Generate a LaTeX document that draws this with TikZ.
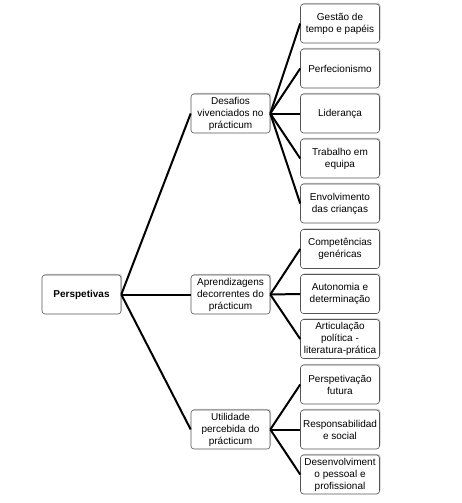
\documentclass[tikz,border=0pt]{standalone}
\usepackage{fontspec}
\setmainfont{Liberation Sans}
\usepackage{tikz}
\usetikzlibrary{shadows}
\definecolor{mapgray}{RGB}{85,85,85}
\definecolor{mapshade}{RGB}{150,150,150}
\tikzset{
  mbox/.style={draw=mapgray, line width=0.6pt, fill=white, rounded corners=3pt, align=center,
    minimum width=79pt, minimum height=39pt, inner sep=1pt, font=\fontsize{10}{12}\selectfont,
    drop shadow={shadow xshift=1pt, shadow yshift=1.2pt, fill=mapshade, opacity=0.5}},
  link/.style={line width=2pt, black}
}
\begin{document}
\begin{tikzpicture}[x=1pt,y=-1pt]
  \useasboundingbox (0,0) rectangle (461,503);
  % root and second level
  \node[mbox] (persp) at (81.5,294.5) {\textbf{Perspetivas}};
  \node[mbox] (desafios) at (230.5,113.5) {Desafios\\vivenciados no\\prácticum};
  \node[mbox] (aprend) at (230.5,294.5) {Aprendizagens\\decorrentes do\\prácticum};
  \node[mbox] (util) at (230.5,429.5) {Utilidade\\percebida do\\prácticum};
  % third level
  \node[mbox] (gestao) at (340,23.5) {Gestão de\\tempo e papéis};
  \node[mbox] (perfec) at (340,68.5) {Perfecionismo};
  \node[mbox] (lider) at (340,113.5) {Liderança};
  \node[mbox] (equipa) at (340,158.5) {Trabalho em\\equipa};
  \node[mbox] (criancas) at (340,203.5) {Envolvimento\\das crianças};
  \node[mbox] (compet) at (340,249) {Competências\\genéricas};
  \node[mbox] (autonom) at (340,294) {Autonomia e\\determinação};
  \node[mbox] (articul) at (340,339) {Articulação\\política -\\literatura-prática};
  \node[mbox] (futura) at (340,384.5) {Perspetivação\\futura};
  \node[mbox] (respons) at (340,429.5) {Responsabilidad\\e social};
  \node[mbox] (desenv) at (340,474.5) {Desenvolviment\\o pessoal e\\profissional};
  % connectors
  \foreach \kid in {desafios,aprend,util}
    \draw[link] (persp.east) -- (\kid.west);
  \foreach \kid in {gestao,perfec,lider,equipa,criancas}
    \draw[link] (desafios.east) -- (\kid.west);
  \foreach \kid in {compet,autonom,articul}
    \draw[link] (aprend.east) -- (\kid.west);
  \foreach \kid in {futura,respons,desenv}
    \draw[link] (util.east) -- (\kid.west);
\end{tikzpicture}
\end{document}
